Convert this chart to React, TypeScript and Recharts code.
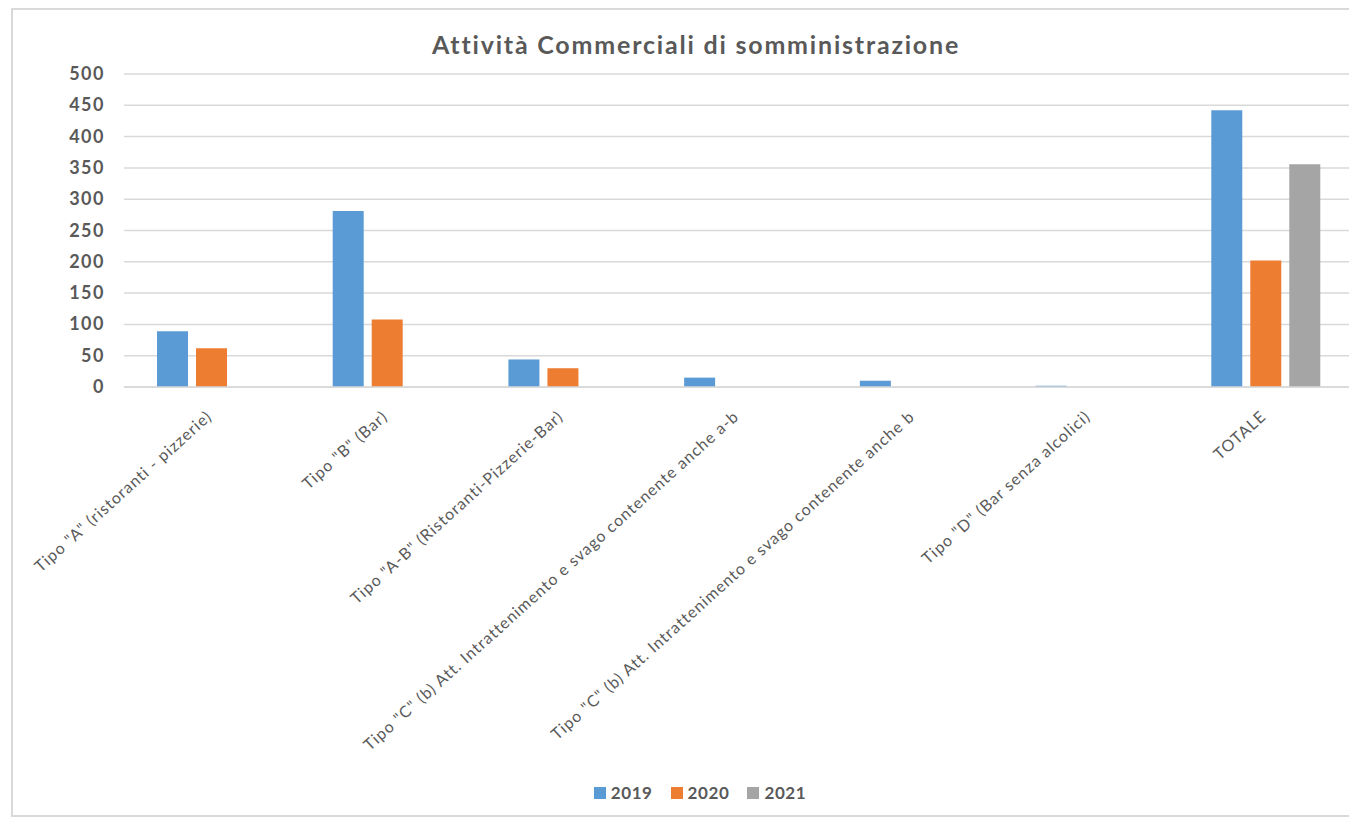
import React from "react";
import { BarChart, Bar, XAxis, YAxis, CartesianGrid, Legend } from "recharts";

const categories = [
  'Tipo "A" (ristoranti - pizzerie)',
  'Tipo "B" (Bar)',
  'Tipo "A-B" (Ristoranti-Pizzerie-Bar)',
  'Tipo "C" (b) Att. Intrattenimento e svago contenente anche a-b',
  'Tipo "C" (b) Att. Intrattenimento e svago contenente anche b',
  'Tipo "D" (Bar senza alcolici)',
  "TOTALE",
];
const values2019 = [89, 281, 44, 15, 10, 2, 442];
const values2020 = [62, 108, 30, 0, 0, 0, 202];
const values2021 = [0, 0, 0, 0, 0, 0, 356];
const yTicks = [0, 50, 100, 150, 200, 250, 300, 350, 400, 450, 500];
const seriesNames = ["2019", "2020", "2021"];
const colors = ["#5B9BD5", "#ED7D31", "#A5A5A5"];

const data = categories.map((c, i) => ({
  name: c,
  "2019": values2019[i],
  "2020": values2020[i],
  "2021": values2021[i],
}));

const FONT = "Lato, 'Open Sans', sans-serif";
const TEXT = "#595959";

const XTick = (props: any) => {
  const { x, y, payload } = props;
  const tx = x + 1;
  const ty = y + 23;
  return (
    <text
      x={tx}
      y={ty}
      transform={`rotate(-42 ${tx} ${ty})`}
      textAnchor="end"
      fill={TEXT}
      fontSize={16}
      letterSpacing={1}
      fontFamily={FONT}
    >
      {payload.value}
    </text>
  );
};

const YTick = (props: any) => {
  const { x, y, payload } = props;
  return (
    <text
      x={x + 2}
      y={y}
      dy={6}
      textAnchor="end"
      fill={TEXT}
      fontSize={18}
      letterSpacing={1.5}
      fontWeight={700}
      fontFamily={FONT}
    >
      {payload.value}
    </text>
  );
};

const renderLegend = (props: any) => {
  const { payload } = props;
  return (
    <div style={{ display: "flex", justifyContent: "center", fontFamily: FONT }}>
      {(payload || []).map((p: any, i: number) => (
        <div
          key={i}
          style={{ display: "flex", alignItems: "center", marginRight: i < payload.length - 1 ? 18 : 0 }}
        >
          <span style={{ display: "inline-block", width: 12, height: 12, background: p.color, marginRight: 5 }} />
          <span style={{ color: TEXT, fontSize: 17, fontWeight: 700, letterSpacing: 0.6, lineHeight: "20px" }}>{p.value}</span>
        </div>
      ))}
    </div>
  );
};

export default function App() {
  return (
    <div
      style={{
        position: "relative",
        width: 1346,
        height: 805,
        border: "2px solid #d9d9d9",
        marginLeft: 3,
        background: "#fff",
      }}
    >
      <div
        style={{
          position: "absolute",
          left: 0,
          width: 1366,
          top: 19,
          textAlign: "center",
          fontFamily: FONT,
          fontSize: 25,
          fontWeight: 700,
          letterSpacing: 1.8,
          color: TEXT,
          lineHeight: "30px",
          zIndex: 2,
        }}
      >
        Attività Commerciali di somministrazione
      </div>
      <BarChart
        width={1346}
        height={805}
        data={data}
        margin={{ top: 64, right: 5, left: 51, bottom: 50 }}
        barSize={31}
        barGap={8}
      >
        <CartesianGrid vertical={false} stroke="#d9d9d9" strokeWidth={1.5} />
        <XAxis
          dataKey="name"
          interval={0}
          height={378}
          tickLine={false}
          axisLine={{ stroke: "#d9d9d9", strokeWidth: 1.5 }}
          tick={<XTick />}
        />
        <YAxis
          width={60}
          domain={[0, 500]}
          ticks={yTicks}
          interval={0}
          tickLine={false}
          axisLine={false}
          tickSize={0}
          tickMargin={21}
          tick={<YTick />}
        />
        <Legend
          layout="horizontal"
          verticalAlign="middle"
          align="center"
          content={renderLegend}
          wrapperStyle={{ top: 773, left: 0, width: 1374 }}
        />
        {seriesNames.map((s, i) => (
          <Bar key={s} dataKey={s} fill={colors[i]} isAnimationActive={false} />
        ))}
      </BarChart>
    </div>
  );
}
